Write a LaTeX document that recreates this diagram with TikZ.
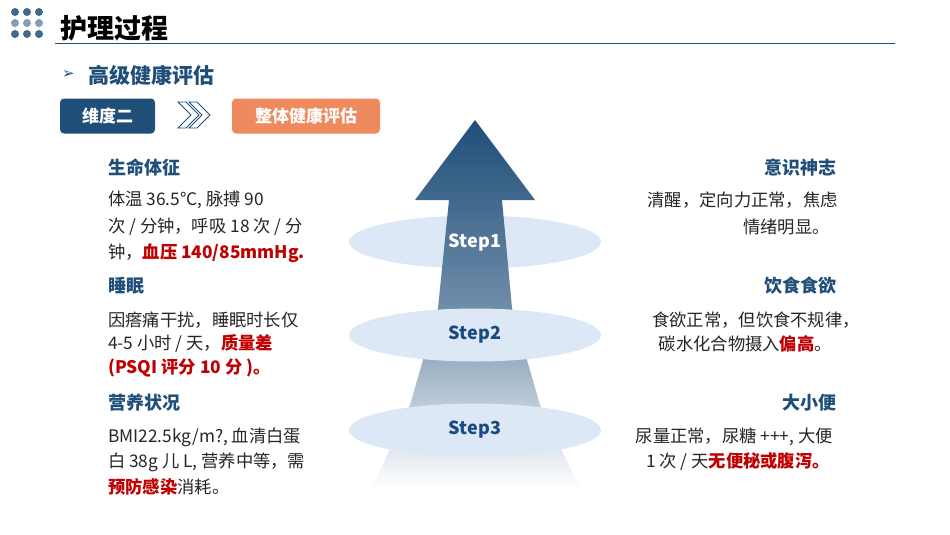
\documentclass[tikz,border=0pt]{standalone}
\usepackage{fontspec}
\setmainfont{Noto Sans CJK SC}
\newfontfamily\djv{DejaVu Sans}
\usetikzlibrary{shapes.geometric}
\definecolor{navy}{HTML}{1F4E79}
\definecolor{dblue}{HTML}{1A4A80}
\definecolor{orng}{HTML}{EE8A5E}
\definecolor{redc}{HTML}{C00000}
\definecolor{ell}{HTML}{DCE8F5}
\begin{document}
\begin{tikzpicture}[x=1pt,y=-1pt,
  body/.style={font=\fontsize{17.3}{19}\selectfont, inner sep=0pt, text=black!85},
  head/.style={font=\fontsize{18}{20}\selectfont\bfseries, inner sep=0pt, text=navy},
  stepe/.style={ellipse, fill=ell, minimum width=252pt, minimum height=53pt, inner sep=0pt, font=\fontsize{18}{20}\selectfont\bfseries},
  dot/.style={circle, fill=#1, minimum size=8pt, inner sep=0pt}]
\useasboundingbox (0,0) rectangle (950,535);
\fill[white] (0,0) rectangle (950,535);
% dots
\foreach \i/\x in {1/15,2/27,3/39}{
 \node[dot=navy!85] (da\i) at (\x,12) {};
 \node[dot=navy!55] (db\i) at (\x,23) {};
 \node[dot=navy!85] (dc\i) at (\x,34) {};}
\node[anchor=west, inner sep=0pt, font=\fontsize{27}{29}\selectfont\bfseries] (title) at (60,28) {护理过程};
\draw[navy, line width=1.5pt] (55,43.5) -- (895,43.5);
\node[anchor=west, inner sep=0pt, text=navy, font=\djv\fontsize{15}{16}\selectfont] (tri) at (62,75) {➢};
\node[anchor=west, inner sep=0pt, text=navy, font=\fontsize{21}{23}\selectfont\bfseries] (sub) at (88,75) {高级健康评估};
\node[fill=navy, rounded corners=4pt, minimum width=95pt, minimum height=35pt, inner sep=0pt, text=white, font=\fontsize{17}{18}\selectfont\bfseries] (b1) at (107.5,116) {维度二};
\node[fill=orng, rounded corners=4pt, minimum width=148pt, minimum height=35pt, inner sep=0pt, text=white, font=\fontsize{17}{18}\selectfont\bfseries] (b2) at (306,116) {整体健康评估};
\foreach \dx in {0,11}{
 \draw[navy, line width=0.8pt, fill=white] (178+\dx,102) -- (186+\dx,102) -- (199+\dx,115) -- (186+\dx,128) -- (178+\dx,128) -- (191+\dx,115) -- cycle;}
% arrow
\node[stepe] (e1) at (475,242) {};
\shade[top color=navy, bottom color=white, middle color=navy!65, shading angle=0]
 (475,120) -- (535,200) -- (502,200) -- (512,308) -- (540,405) -- (580,488) -- (372,488) -- (410,405) -- (438,308) -- (449,200) -- (415,200) -- cycle;
\node[text=white, font=\fontsize{18}{20}\selectfont\bfseries] (s1) at (475,243) {Step1};
\node[stepe, text=dblue] (e2) at (475,335) {Step2};
\node[stepe, text=dblue] (e3) at (475,430) {Step3};
% left
\node[head, anchor=west] (h1) at (108,168) {生命体征};
\node[body, anchor=west] (l11) at (108,200) {体温 36.5°C, 脉搏 90};
\node[body, anchor=west] (l12) at (108,227) {次 / 分钟，呼吸 18 次 / 分};
\node[body, anchor=west] (l13) at (108,253) {钟，\textcolor{redc}{\bfseries 血压 140/85mmHg.}};
\node[head, anchor=west] (h2) at (108,286) {睡眠};
\node[body, anchor=west] (l21) at (108,320) {因瘩痛干扰，睡眠时长仅};
\node[body, anchor=west] (l22) at (108,344) {4-5 小时 / 天，\textcolor{redc}{\bfseries 质量差}};
\node[body, anchor=west] (l23) at (108,368) {\textcolor{redc}{\bfseries (PSQI 评分 10 分 )。}};
\node[head, anchor=west] (h3) at (108,403) {营养状况};
\node[body, anchor=west] (l31) at (108,437) {BMI22.5kg/m?, 血清白蛋};
\node[body, anchor=west] (l32) at (108,462) {白 38g 儿 L, 营养中等，需};
\node[body, anchor=west] (l33) at (108,487) {\textcolor{redc}{\bfseries 预防感染}消耗。};
% right
\node[head, anchor=east] (r1) at (837,168) {意识神志};
\node[body, anchor=east] (r11) at (838,200) {清醒，定向力正常，焦虑};
\node[body, anchor=east] (r12) at (830,227) {情绪明显。};
\node[head, anchor=east] (r2) at (837,286) {饮食食欲};
\node[body, anchor=east] (r21) at (860,320) {食欲正常，但饮食不规律，};
\node[body, anchor=east] (r22) at (832,344) {碳水化合物摄入\textcolor{redc}{\bfseries 偏高}。};
\node[head, anchor=east] (r3) at (837,403) {大小便};
\node[body, anchor=east] (r31) at (833,437) {尿量正常，尿糖 +++, 大便};
\node[body, anchor=east] (r32) at (830,462) {1 次 / 天\textcolor{redc}{\bfseries 无便秘或腹泻。}};
\end{tikzpicture}
\end{document}
